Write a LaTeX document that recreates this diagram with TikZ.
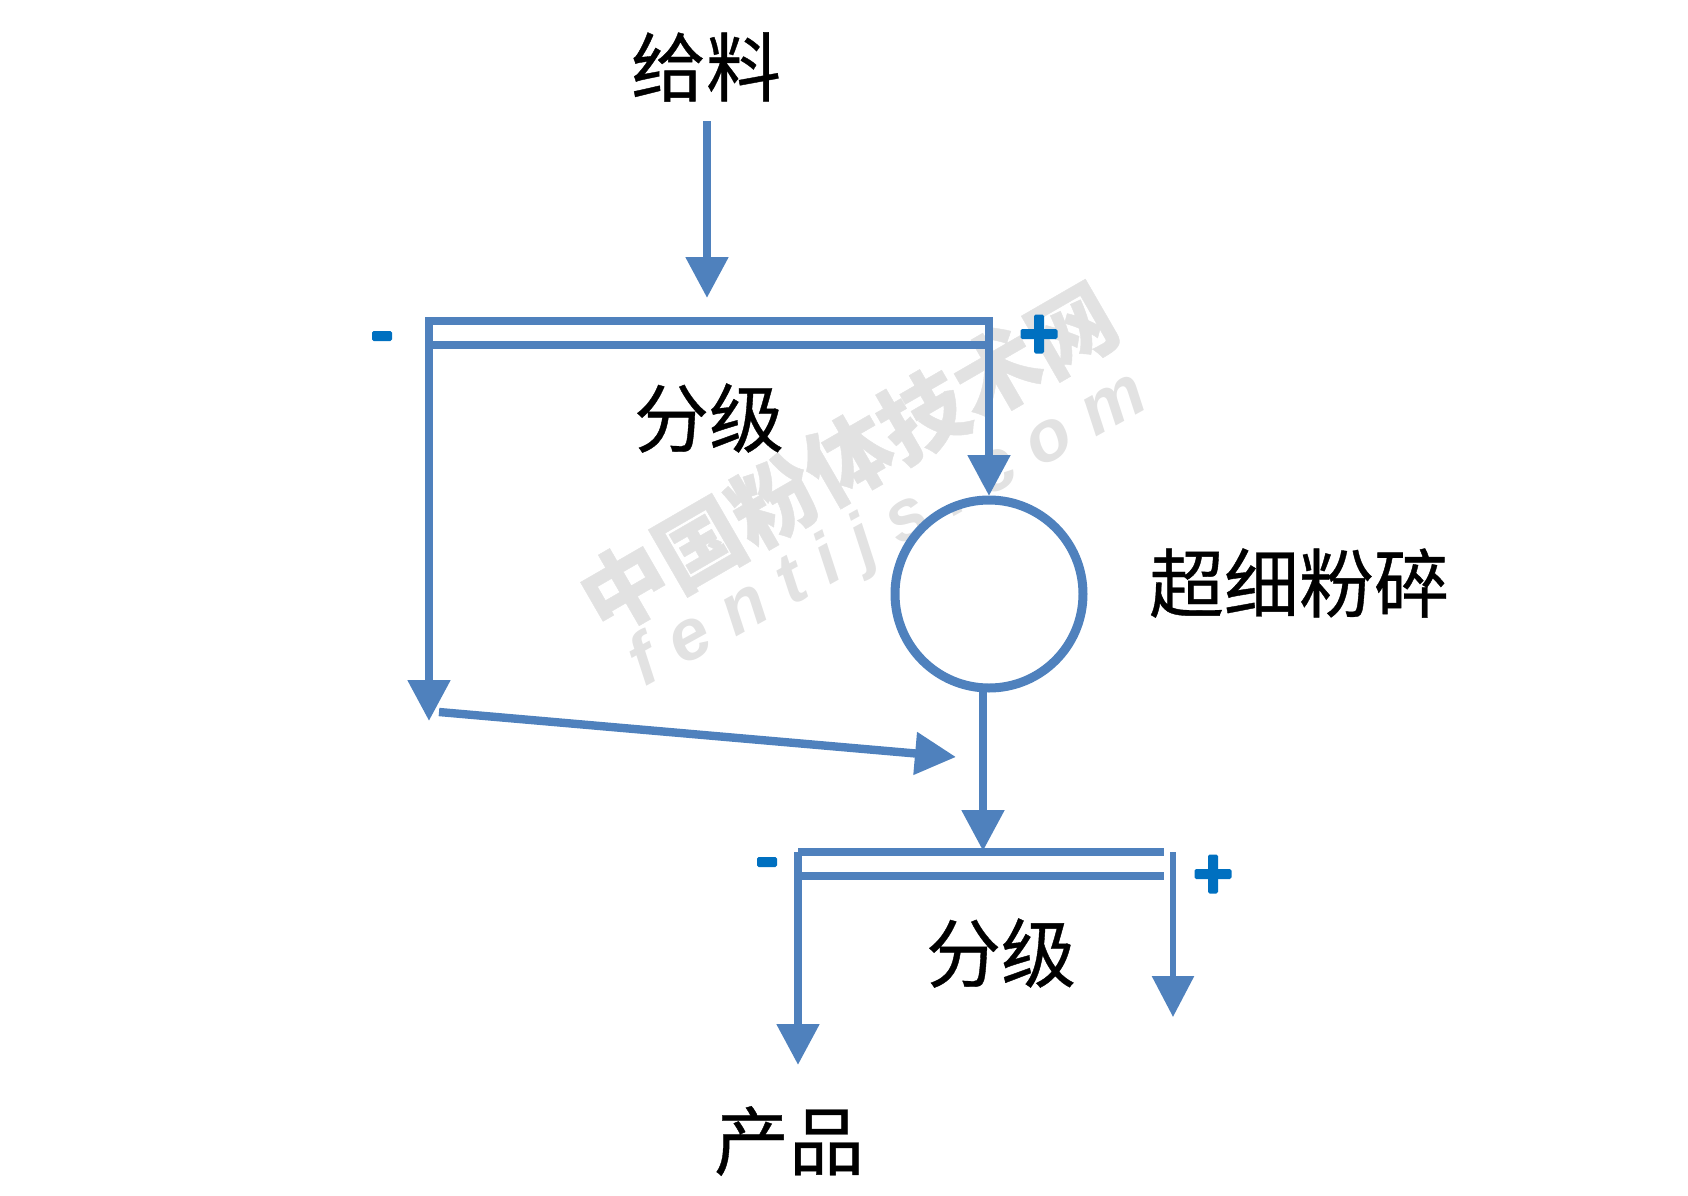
\documentclass[tikz,border=0pt]{standalone}
\usepackage{fontspec}
\setmainfont{Noto Sans CJK SC}[FakeBold=0.5]
\newfontfamily\markfont{Liberation Sans}
\usepackage{xcolor}
\usetikzlibrary{arrows.meta,positioning}
\definecolor{flowblue}{HTML}{4F81BD}
\definecolor{signblue}{HTML}{0070C0}
\definecolor{markgray}{HTML}{E2E2E2}
\newcommand{\wmgap}{\hspace{10pt}}
\tikzset{
  flow/.style={line width=4.2pt,color=flowblue,-{Triangle[length=20.5pt,width=20.5pt]}},
  thinflow/.style={flow,line width=3pt},
  bar/.style={line width=4.2pt,color=flowblue},
  caption/.style={inner sep=0pt,font=\fontsize{37.5}{37.5}\selectfont},
  sign/.style={inner sep=0pt,fill=signblue,rounded corners=0.8pt}
}
\begin{document}
\begin{tikzpicture}[x=0.5pt,y=-0.5pt]
\useasboundingbox (0,0) rectangle (1688,1195);
% watermark
\node (wmcn) [rotate=30,inner sep=0pt,text=markgray,font=\fontsize{43}{43}\selectfont\bfseries] at (848,458) {中国粉体技术网};
\node (wmen) [rotate=29,inner sep=0pt,text=markgray,font=\markfont\fontsize{36}{36}\selectfont\bfseries\itshape] at (889,531) {f\wmgap e\wmgap n\wmgap t\wmgap i\wmgap j\wmgap s\wmgap .\wmgap c\wmgap o\wmgap m};
% labels
\node (feed) [caption] at (706,67) {给料};
\node (gradea) [caption] at (709,418) {分级};
\node (gradeb) [caption] at (1001,953) {分级};
\node (mill) [caption] at (1299,583) {超细粉碎};
\node (prod) [caption] at (789,1141) {产品};
% mill
\node (c) [circle,draw=flowblue,line width=4.5pt,minimum size=94pt,inner sep=0pt] at (989,594) {};
% upper screen
\coordinate (ua) at (428,321);
\coordinate (ub) at (993,321);
\coordinate (uc) at (428,345);
\coordinate (ud) at (993,345);
\path (ua) edge[bar] (ub);
\path (uc) edge[bar] (ud);
% lower screen
\coordinate (la) at (798,852);
\coordinate (lb) at (1164,852);
\coordinate (lc) at (798,876);
\coordinate (ld) at (1164,876);
\path (la) edge[bar] (lb);
\path (lc) edge[bar] (ld);
% flows
\coordinate (fs) at (707,121);
\coordinate (ft) at (707,298);
\path (fs) edge[flow] (ft);
\coordinate (ls) at (429,317);
\coordinate (lt) at (429,721);
\path (ls) edge[flow] (lt);
\coordinate (rs) at (989,317);
\coordinate (rt) at (989,496);
\path (rs) edge[flow] (rt);
\coordinate (bs) at (439,712);
\coordinate (bt) at (956,757);
\path (bs) edge[flow] (bt);
\coordinate (ds) at (983,692);
\coordinate (dt) at (983,851);
\path (ds) edge[flow] (dt);
\coordinate (ps) at (798,852);
\coordinate (pt) at (798,1065);
\path (ps) edge[flow] (pt);
\coordinate (os) at (1173,852);
\coordinate (ot) at (1173,1017);
\path (os) edge[thinflow] (ot);
% signs
\node (minusa) [sign,minimum width=10pt,minimum height=5pt] at (382,336) {};
\node (plusah) [sign,minimum width=18.5pt,minimum height=5pt] at (1039,334) {};
\node (plusav) [sign,minimum width=5pt,minimum height=19.5pt] at (1039,334) {};
\node (minusb) [sign,minimum width=10pt,minimum height=5pt] at (767,862) {};
\node (plusbh) [sign,minimum width=18.5pt,minimum height=5pt] at (1213,874) {};
\node (plusbv) [sign,minimum width=5pt,minimum height=19.5pt] at (1213,874) {};
\end{tikzpicture}
\end{document}
